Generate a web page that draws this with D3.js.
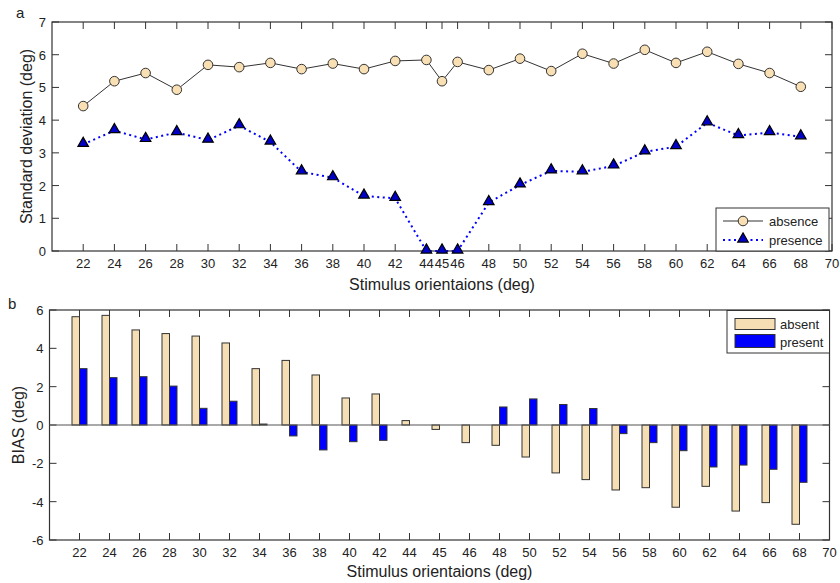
<!DOCTYPE html>
<html>
<head>
<meta charset="utf-8">
<script src="https://cdn.jsdelivr.net/npm/d3@7"></script>
<style>
  body { margin: 0; background: #fff; }
  svg text { font-family: "Liberation Sans", Arial, sans-serif; fill: #222; }
</style>
</head>
<body>
<div id="chart"></div>
<script>
// stimulus orientations (deg)
var orientations = [22, 24, 26, 28, 30, 32, 34, 36, 38, 40, 42, 44, 45, 46, 48, 50, 52, 54, 56, 58, 60, 62, 64, 66, 68];
var xTickLabels = orientations.concat([70]);

// panel a: standard deviation
var sdAbsence = [4.43, 5.19, 5.44, 4.93, 5.69, 5.62, 5.75, 5.56, 5.73, 5.56, 5.81, 5.84, 5.19, 5.78, 5.53, 5.88, 5.50, 6.03, 5.73, 6.15, 5.75, 6.09, 5.72, 5.44, 5.02];
var sdPresence = [3.26, 3.68, 3.41, 3.62, 3.39, 3.83, 3.33, 2.42, 2.24, 1.68, 1.61, 0, 0, 0, 1.48, 2.02, 2.45, 2.42, 2.60, 3.03, 3.19, 3.92, 3.53, 3.62, 3.49];
var sdTicks = [0, 1, 2, 3, 4, 5, 6, 7];

// panel b: bias
var biasAbsent = [5.65, 5.72, 4.96, 4.77, 4.64, 4.28, 2.94, 3.37, 2.61, 1.41, 1.62, 0.23, -0.23, -0.92, -1.06, -1.67, -2.50, -2.85, -3.39, -3.27, -4.29, -3.20, -4.49, -4.05, -5.18];
var biasPresent = [2.94, 2.47, 2.52, 2.03, 0.87, 1.24, 0.05, -0.57, -1.30, -0.87, -0.80, 0, 0, 0, 0.94, 1.36, 1.07, 0.86, -0.45, -0.92, -1.34, -2.19, -2.09, -2.31, -2.99];
var biasTicks = [-6, -4, -2, 0, 2, 4, 6];

var svgWidth = 840, svgHeight = 583;
var svg = d3.select("#chart").append("svg")
    .attr("width", svgWidth)
    .attr("height", svgHeight);

var axisColor = "#333";
var tickLen = 7;

// ---------- panel a ----------
var a = { left: 52, right: 832, top: 22, bottom: 251 };

var xA = d3.scaleLinear().domain([20, 70]).range([a.left, a.right]);
var yA = d3.scaleLinear().domain([0, 7]).range([a.bottom, a.top]);

function drawFrame(p, xPositions, yScale, yTicks) {
    var g = svg.append("g");
    g.append("rect")
        .attr("x", p.left).attr("y", p.top)
        .attr("width", p.right - p.left).attr("height", p.bottom - p.top)
        .attr("fill", "none").attr("stroke", axisColor).attr("stroke-width", 1.2);
    // x ticks, inward on bottom and top
    xPositions.forEach(function(t) {
        g.append("line").attr("x1", t.x).attr("x2", t.x)
            .attr("y1", p.bottom).attr("y2", p.bottom - tickLen)
            .attr("stroke", axisColor);
        g.append("line").attr("x1", t.x).attr("x2", t.x)
            .attr("y1", p.top).attr("y2", p.top + tickLen)
            .attr("stroke", axisColor);
        g.append("text").attr("x", t.x).attr("y", p.bottom + 17)
            .attr("text-anchor", "middle").attr("font-size", 13)
            .text(t.label);
    });
    // y ticks, inward on left and right
    yTicks.forEach(function(v) {
        var y = yScale(v);
        g.append("line").attr("x1", p.left).attr("x2", p.left + tickLen)
            .attr("y1", y).attr("y2", y).attr("stroke", axisColor);
        g.append("line").attr("x1", p.right).attr("x2", p.right - tickLen)
            .attr("y1", y).attr("y2", y).attr("stroke", axisColor);
        g.append("text").attr("x", p.left - 6).attr("y", y + 5)
            .attr("text-anchor", "end").attr("font-size", 13)
            .text(v);
    });
    return g;
}

drawFrame(a, xTickLabels.map(function(d) { return { x: xA(d), label: d }; }), yA, sdTicks);

// absence line + circles
var lineA = d3.line()
    .x(function(d, i) { return xA(orientations[i]); })
    .y(function(d) { return yA(d); });

svg.append("path")
    .datum(sdAbsence)
    .attr("d", lineA)
    .attr("fill", "none")
    .attr("stroke", "#333")
    .attr("stroke-width", 1);

svg.append("path")
    .datum(sdPresence)
    .attr("d", lineA)
    .attr("fill", "none")
    .attr("stroke", "#0000ff")
    .attr("stroke-width", 2)
    .attr("stroke-dasharray", "2,3.5");

svg.selectAll(".absDot")
    .data(sdAbsence)
    .enter()
    .append("circle")
    .attr("cx", function(d, i) { return xA(orientations[i]); })
    .attr("cy", function(d) { return yA(d); })
    .attr("r", 4.8)
    .attr("fill", "#f8e0b4")
    .attr("stroke", "#333")
    .attr("stroke-width", 1);

var triangle = d3.symbol().type(d3.symbolTriangle).size(48);

svg.selectAll(".presTri")
    .data(sdPresence)
    .enter()
    .append("path")
    .attr("d", triangle)
    .attr("transform", function(d, i) { return "translate(" + xA(orientations[i]) + "," + (yA(d) - 1) + ")"; })
    .attr("fill", "#0000c8")
    .attr("stroke", "#000")
    .attr("stroke-width", 1.2);

// panel a labels
svg.append("text").attr("x", 16).attr("y", 18).attr("font-size", 15).text("a");
svg.append("text")
    .attr("transform", "translate(32," + ((a.top + a.bottom) / 2) + ") rotate(-90)")
    .attr("text-anchor", "middle").attr("font-size", 16)
    .text("Standard deviation (deg)");
svg.append("text")
    .attr("x", (a.left + a.right) / 2).attr("y", 290)
    .attr("text-anchor", "middle").attr("font-size", 16)
    .text("Stimulus orientaions (deg)");

// legend a
var legA = svg.append("g").attr("transform", "translate(716,208)");
legA.append("rect").attr("width", 113).attr("height", 43)
    .attr("fill", "#fff").attr("stroke", "#333");
legA.append("line").attr("x1", 7).attr("x2", 47).attr("y1", 13).attr("y2", 13)
    .attr("stroke", "#333");
legA.append("circle").attr("cx", 27).attr("cy", 13).attr("r", 4.8)
    .attr("fill", "#f8e0b4").attr("stroke", "#333");
legA.append("text").attr("x", 53).attr("y", 17.5).attr("font-size", 13).text("absence");
legA.append("line").attr("x1", 7).attr("x2", 47).attr("y1", 32).attr("y2", 32)
    .attr("stroke", "#0000ff").attr("stroke-width", 2).attr("stroke-dasharray", "2,3.5");
legA.append("path").attr("d", triangle)
    .attr("transform", "translate(27,31)")
    .attr("fill", "#0000c8").attr("stroke", "#000").attr("stroke-width", 1.2);
legA.append("text").attr("x", 53).attr("y", 36.5).attr("font-size", 13).text("presence");

// ---------- panel b ----------
var b = { left: 49.5, right: 829.5, top: 310, bottom: 540 };
var step = (b.right - b.left) / (xTickLabels.length);

var xB = d3.scalePoint()
    .domain(xTickLabels)
    .range([b.left + step, b.right]);
var yB = d3.scaleLinear().domain([-6, 6]).range([b.bottom, b.top]);

drawFrame(b, xTickLabels.map(function(d) { return { x: xB(d), label: d }; }), yB, biasTicks);

var barW = 7.5;

svg.selectAll(".barAbs")
    .data(biasAbsent)
    .enter()
    .append("rect")
    .attr("x", function(d, i) { return xB(orientations[i]) - barW; })
    .attr("y", function(d) { return yB(Math.max(0, d)); })
    .attr("width", barW)
    .attr("height", function(d) { return Math.abs(yB(d) - yB(0)); })
    .attr("fill", "#f5deb3")
    .attr("stroke", "#333")
    .attr("stroke-width", 1);

svg.selectAll(".barPres")
    .data(biasPresent)
    .enter()
    .append("rect")
    .attr("x", function(d, i) { return xB(orientations[i]); })
    .attr("y", function(d) { return yB(Math.max(0, d)); })
    .attr("width", barW)
    .attr("height", function(d) { return Math.abs(yB(d) - yB(0)); })
    .attr("fill", "#0000ff")
    .attr("stroke", "#333")
    .attr("stroke-width", 1);

// zero line
svg.append("line")
    .attr("x1", b.left).attr("x2", b.right)
    .attr("y1", yB(0)).attr("y2", yB(0))
    .attr("stroke", "#555").attr("stroke-width", 1.2);

// panel b labels
svg.append("text").attr("x", 8).attr("y", 309).attr("font-size", 15).text("b");
svg.append("text")
    .attr("transform", "translate(24," + ((b.top + b.bottom) / 2) + ") rotate(-90)")
    .attr("text-anchor", "middle").attr("font-size", 16)
    .text("BIAS (deg)");
svg.append("text")
    .attr("x", (b.left + b.right) / 2).attr("y", 577)
    .attr("text-anchor", "middle").attr("font-size", 16)
    .text("Stimulus orientaions (deg)");

// legend b
var legB = svg.append("g").attr("transform", "translate(727,310.5)");
legB.append("rect").attr("width", 102.5).attr("height", 42.5)
    .attr("fill", "#fff").attr("stroke", "#333");
legB.append("rect").attr("x", 8).attr("y", 8).attr("width", 40).attr("height", 11)
    .attr("fill", "#f5deb3").attr("stroke", "#333");
legB.append("text").attr("x", 53).attr("y", 18).attr("font-size", 13).text("absent");
legB.append("rect").attr("x", 8).attr("y", 24).attr("width", 40).attr("height", 13)
    .attr("fill", "#0000ff").attr("stroke", "#333");
legB.append("text").attr("x", 53).attr("y", 36).attr("font-size", 13).text("present");
</script>
</body>
</html>
